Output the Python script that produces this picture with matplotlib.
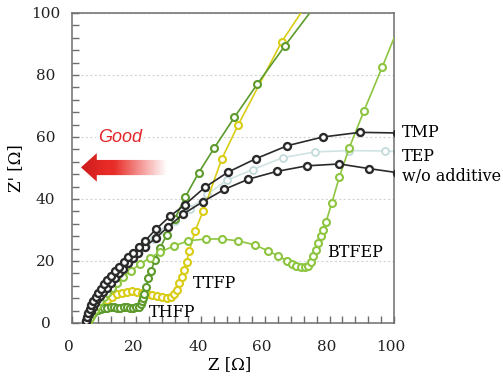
import numpy as np
import matplotlib
matplotlib.use("Agg")
import matplotlib.pyplot as plt
import matplotlib.transforms as mtransforms
from matplotlib.ticker import MultipleLocator
from matplotlib.patches import Polygon

# ---------------- data ----------------
thfp_x = [5.0, 5.4, 5.9, 6.5, 7.2, 8.0, 9.0, 10.0, 11.0, 12.0, 13.0, 14.0, 15.0, 16.0,
          17.0, 18.0, 19.0, 20.0, 20.8, 21.3, 21.7, 22.0, 22.4, 23.0, 23.7, 24.5, 25.8,
          27.3, 29.4, 32.0, 35.1, 39.3, 44.2, 50.4, 57.5, 66.1, 76.0]
thfp_y = [0.3, 1.3, 2.3, 3.1, 3.8, 4.3, 4.6, 4.8, 5.0, 5.1, 5.1, 5.0, 5.0, 5.1,
          5.1, 5.0, 5.0, 5.1, 5.3, 6.0, 7.0, 8.0, 9.4, 11.7, 14.4, 16.8, 20.3,
          24.1, 28.4, 33.7, 40.5, 48.4, 56.5, 66.3, 77.0, 89.4, 103.0]

ttfp_x = [4.2, 4.6, 6.1, 7.7, 9.2, 10.8, 12.3, 13.9, 15.4, 17.0, 18.5, 20.1, 21.6, 23.2,
          24.8, 26.3, 27.9, 29.4, 30.7, 31.7, 32.5, 33.3, 34.1, 34.8, 35.6, 36.4, 38.2,
          40.7, 46.5, 51.6, 65.1, 73.0]
ttfp_y = [0.3, 1.5, 3.1, 4.7, 6.4, 7.4, 8.5, 9.3, 9.8, 10.1, 10.3, 10.1, 9.8, 9.4,
          9.0, 8.7, 8.3, 8.2, 8.5, 9.3, 10.6, 12.8, 14.9, 17.1, 19.8, 23.2, 29.7,
          36.0, 52.9, 63.9, 90.7, 103.0]

btfep_x = [5.0, 5.5, 6.2, 7.0, 7.8, 8.8, 9.8, 11.0, 12.3, 13.9, 15.9, 18.3, 21.1, 24.2,
           27.3, 31.7, 36.1, 41.5, 46.7, 51.6, 56.8, 61.0, 64.1, 66.7, 68.2, 69.6, 71.2,
           72.4, 73.4, 74.2, 74.9, 75.7, 76.5, 77.2, 78.0, 78.9, 80.7, 83.0, 86.1, 90.7,
           96.4, 102.0]
btfep_y = [0.3, 1.5, 2.8, 4.2, 5.6, 7.0, 8.3, 9.8, 11.2, 12.8, 14.9, 16.9, 18.9, 21.1,
           22.8, 24.9, 26.5, 27.1, 27.1, 26.5, 25.2, 23.2, 21.6, 20.1, 19.0, 18.4, 18.2,
           18.1, 18.5, 19.8, 21.6, 23.5, 25.9, 28.0, 30.0, 32.6, 38.8, 47.0, 56.5, 68.5,
           82.7, 97.0]

tmp_x = [4.2, 4.6, 5.0, 5.5, 6.0, 6.6, 7.3, 8.0, 8.9, 9.8, 10.9, 12.0, 13.3, 14.6,
         16.0, 17.5, 19.0, 20.8, 22.7, 26.1, 30.4, 35.1, 41.3, 48.5, 57.1, 66.9, 77.9,
         89.4, 101.0]
tmp_y = [0.5, 1.8, 3.1, 4.4, 5.7, 7.0, 8.4, 9.7, 11.1, 12.5, 13.9, 15.3, 16.8, 18.2,
         19.7, 21.2, 22.7, 24.4, 26.5, 30.3, 34.4, 38.2, 43.8, 48.7, 53.0, 57.2, 60.0,
         61.5, 61.3]

tep_x = [4.3, 5.0, 6.0, 7.0, 8.0, 9.2, 10.5, 12.0, 13.5, 15.0, 16.8, 18.7, 20.8, 23.0,
         25.5, 28.5, 32.0, 36.5, 42.0, 48.0, 56.1, 65.4, 75.5, 86.0, 97.2, 101.0]
tep_y = [0.5, 2.5, 4.8, 6.8, 8.6, 10.3, 12.0, 13.8, 15.5, 17.2, 19.0, 20.8, 22.8, 24.8,
         27.0, 29.8, 32.8, 36.8, 41.5, 46.0, 49.5, 53.3, 55.2, 55.6, 55.5, 55.3]

wo_x = [4.3, 4.8, 5.2, 5.8, 6.4, 7.1, 7.9, 8.7, 9.7, 10.8, 12.0, 13.4, 14.7, 15.9,
        17.5, 19.0, 20.6, 22.7, 26.1, 29.9, 34.6, 40.6, 47.3, 54.8, 63.6, 72.9, 83.0,
        92.3, 101.0]
wo_y = [0.6, 1.7, 2.8, 4.0, 5.2, 6.3, 7.6, 8.7, 10.1, 11.4, 12.8, 14.4, 16.0, 17.4,
        19.3, 20.9, 22.5, 24.6, 27.5, 31.1, 35.2, 39.1, 43.1, 46.4, 48.9, 50.7, 51.3,
        49.8, 48.5]

series_names = ["TMP", "TEP", "w/o additive", "BTFEP", "TTFP", "THFP"]
x_ticks = [0, 20, 40, 60, 80, 100]
y_ticks = [0, 20, 40, 60, 80, 100]

# ---------------- figure ----------------
fig = plt.figure(figsize=(5.03, 3.78), dpi=100)
ax = fig.add_axes([72/503, 55/378, 322/503, 310/378])
ax.set_xlim(0, 100)
ax.set_ylim(0, 100)

serif = "DejaVu Serif"

ax.set_axisbelow(True)
ax.yaxis.grid(True, which="major", linestyle=(0, (2, 2)), color="#d4d4d4", lw=0.8)

mk = dict(marker="o", markerfacecolor="white", markersize=5.0, lw=1.2)

ax.plot(tep_x, tep_y, color="#d0e3e3", mec="#c3dada", mew=1.3, zorder=2, **mk)
ax.plot(ttfp_x, ttfp_y, color="#d9cc14", mec="#d9cc14", mew=1.5, zorder=3, **mk)
ax.plot(thfp_x, thfp_y, color="#5c9a2c", mec="#5c9a2c", mew=1.5, zorder=4, **mk)
ax.plot(btfep_x, btfep_y, color="#8dc540", mec="#8dc540", mew=1.5, zorder=5, **mk)
ax.plot(wo_x, wo_y, color="#2a2a2a", mec="#2a2a2a", mew=1.7, zorder=6, **mk)
ax.plot(tmp_x, tmp_y, color="#2a2a2a", mec="#2a2a2a", mew=1.7, zorder=7, **mk)

# series labels
lab_fs = 11.5
ax.text(102.5, 61.6, series_names[0], fontsize=lab_fs, family=serif, va="center", ha="left", clip_on=False)
ax.text(102.5, 53.6, series_names[1], fontsize=lab_fs, family=serif, va="center", ha="left", clip_on=False)
ax.text(102.5, 47.4, series_names[2], fontsize=lab_fs, family=serif, va="center", ha="left", clip_on=False)
ax.text(79.2, 22.6, series_names[3], fontsize=lab_fs, family=serif, va="center", ha="left", zorder=10)
ax.text(37.6, 12.9, series_names[4], fontsize=lab_fs, family=serif, va="center", ha="left", zorder=10)
ax.text(23.9, 3.3, series_names[5], fontsize=lab_fs, family=serif, va="center", ha="left", zorder=10)

# "Good" gradient arrow
verts = [(2.8, 50.2), (7.7, 54.8), (7.7, 52.6), (29.4, 52.6), (29.4, 47.7),
         (7.7, 47.7), (7.7, 45.6)]
poly = Polygon(verts, closed=True, facecolor="none", edgecolor="none", transform=ax.transData)
ax.add_patch(poly)
nx = 200
xs = np.linspace(2.8, 29.4, nx)
alpha = np.clip((29.4 - xs) / (29.4 - 13.0), 0, 1)
rgb = np.zeros((2, nx, 4))
base = np.array([0.91, 0.17, 0.15])
dark = np.array([0.80, 0.11, 0.11])
t = np.clip((xs - 2.8) / 8.0, 0, 1)[:, None]
cols = dark * (1 - t) + base * t
rgb[:, :, :3] = cols[None, :, :]
rgb[:, :, 3] = alpha[None, :]
im = ax.imshow(rgb, extent=[2.8, 29.4, 45.6, 54.8], aspect="auto", zorder=8,
               interpolation="bilinear")
im.set_clip_path(poly)
ax.set_xlim(0, 100)
ax.set_ylim(0, 100)
ax.text(15.0, 60.0, "Good", color="#e3262a", fontsize=13, style="italic",
        family="Liberation Sans", ha="center", va="center", zorder=9,
        bbox=dict(facecolor="white", edgecolor="none", pad=1.5))

# ticks & spines
ax.set_xticks(x_ticks)
ax.set_yticks(y_ticks)
ax.xaxis.set_minor_locator(MultipleLocator(4))
ax.yaxis.set_minor_locator(MultipleLocator(4))
ax.tick_params(which="both", direction="in", length=5, width=1.0, color="#6e6e6e",
               top=False, right=False)
ax.tick_params(axis="x", which="major", labelsize=11, pad=12)
ax.tick_params(axis="y", which="major", labelsize=11, pad=19)
shift = mtransforms.ScaledTranslation(-3/100, 0, fig.dpi_scale_trans)
for lbl in ax.get_xticklabels() + ax.get_yticklabels():
    lbl.set_family(serif)
    lbl.set_color("#222222")
for lbl in ax.get_xticklabels():
    lbl.set_transform(lbl.get_transform() + shift)
for lbl in ax.get_yticklabels():
    lbl.set_horizontalalignment("center")
for s in ax.spines.values():
    s.set_color("#6e6e6e")
    s.set_linewidth(1.1)

ax.set_xlabel("Z [Ω]", fontsize=12, family=serif)
ax.set_ylabel("Z' [Ω]", fontsize=12, family=serif)
ax.xaxis.set_label_coords(0.489, -0.108)
ax.yaxis.set_label_coords(-0.15, 0.5)

fig.savefig("out.png", dpi=100)
